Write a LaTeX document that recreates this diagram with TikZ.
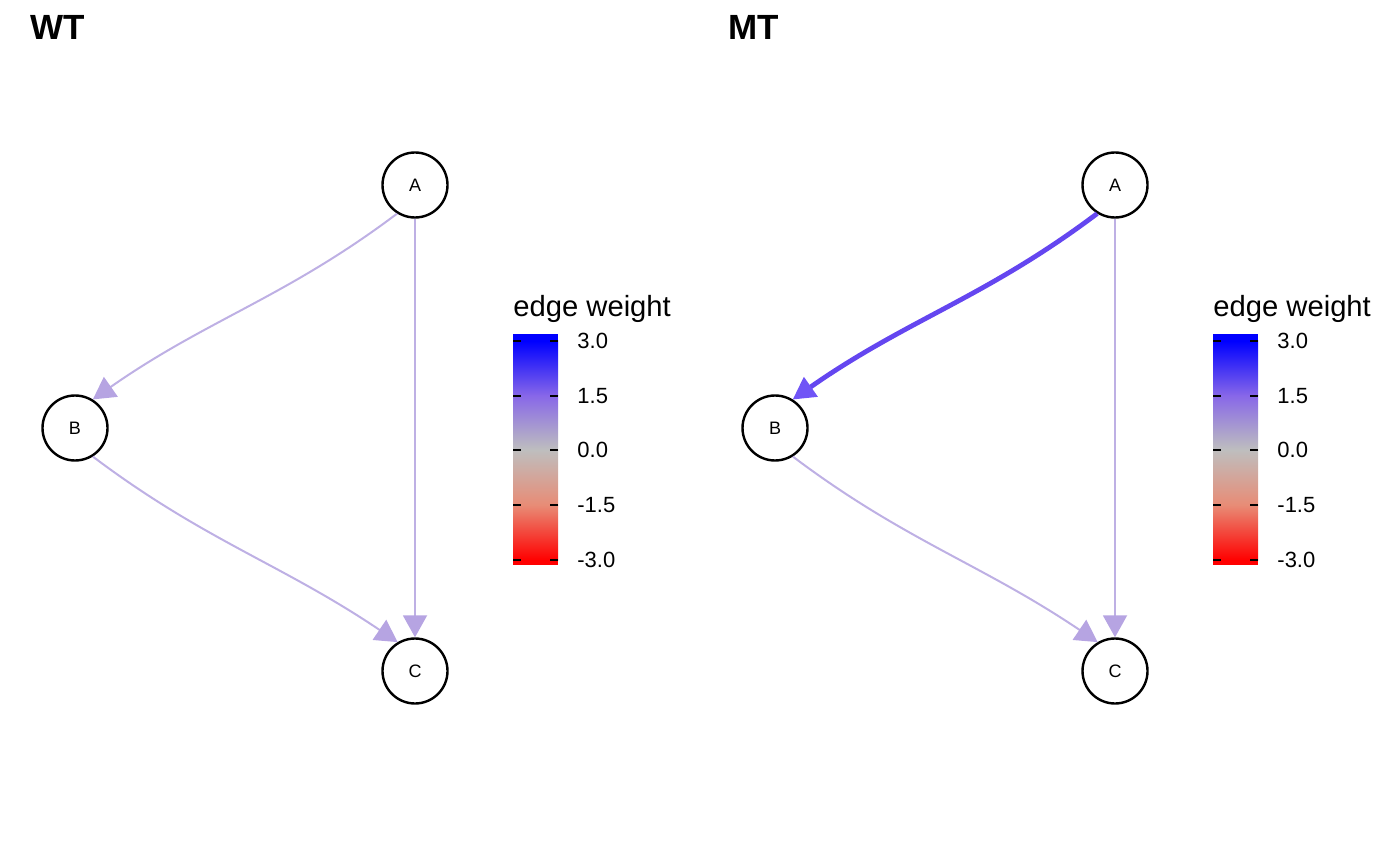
\documentclass[tikz,border=0pt]{standalone}
\usepackage{fontspec}
\setmainfont{Liberation Sans}
\usepackage{xcolor}
\usetikzlibrary{arrows.meta,positioning}
\definecolor{edgelight}{RGB}{190,176,228}
\definecolor{tiplight}{RGB}{182,164,226}
\definecolor{edgestrong}{RGB}{100,70,240}
\definecolor{tipstrong}{RGB}{112,84,246}
\definecolor{keyblue}{RGB}{0,0,255}
\definecolor{keypurple}{RGB}{136,104,232}
\definecolor{keygrey}{RGB}{190,190,190}
\definecolor{keysalmon}{RGB}{232,140,118}
\definecolor{keyred}{RGB}{255,0,0}
\tikzset{
  vertex/.style={circle, draw, line width=1.2pt, minimum size=32.5pt, inner sep=0pt,
    font=\fontsize{9}{10}\selectfont},
  weak/.style={edgelight, line width=1pt,
    -{Triangle[length=11pt, width=12pt, fill=tiplight, color=tiplight]}},
  strong/.style={edgestrong, line width=2.4pt,
    -{Triangle[length=11pt, width=12pt, fill=tipstrong, color=tipstrong, line width=1pt]}},
  paneltitle/.style={anchor=base west, inner sep=0pt, font=\fontsize{17.5}{20}\selectfont\bfseries},
  keytitle/.style={anchor=base west, inner sep=0pt, font=\fontsize{14.6}{17}\selectfont},
  keylabel/.style={anchor=west, inner sep=0pt, font=\fontsize{11}{13}\selectfont},
  keytick/.style={line width=0.9pt}
}
\begin{document}
\begin{tikzpicture}[x=0.5pt, y=-0.5pt]
  \useasboundingbox (0,0) rectangle (1400,865);

  % WT panel
  \node[paneltitle] (WTtitle) at (30,40) {WT};
  \node[vertex] (WTA) at (415,185) {A};
  \node[vertex] (WTB) at (75,428) {B};
  \node[vertex] (WTC) at (415,671) {C};
  \draw[weak] (WTA.238) to[out=217, in=35] (WTB.58);
  \draw[weak] (WTA) -- (WTC);
  \draw[weak] (WTB.302) to[out=-37, in=146] (WTC.121);

  % WT colour key
  \fill[keyblue] (513,334) rectangle (558,341);
  \shade[top color=keyblue, bottom color=keypurple] (513,341) rectangle (558,396);
  \shade[top color=keypurple, bottom color=keygrey] (513,396) rectangle (558,450);
  \shade[top color=keygrey, bottom color=keysalmon] (513,450) rectangle (558,505);
  \shade[top color=keysalmon, bottom color=keyred] (513,505) rectangle (558,560);
  \fill[keyred] (513,560) rectangle (558,565);
  \foreach \y in {341,396,450,505,560} {
    \draw[keytick] (513,\y) -- (521,\y);
    \draw[keytick] (550,\y) -- (558,\y);
  }
  \node[keytitle] (WTkey) at (513,317) {edge weight};
  \node[keylabel] (WTk1) at (577,341) {3.0};
  \node[keylabel] (WTk2) at (577,396) {1.5};
  \node[keylabel] (WTk3) at (577,450) {0.0};
  \node[keylabel] (WTk4) at (577,505) {-1.5};
  \node[keylabel] (WTk5) at (577,560) {-3.0};

  % MT panel
  \node[paneltitle] (MTtitle) at (728,40) {MT};
  \node[vertex] (MTA) at (1115,185) {A};
  \node[vertex] (MTB) at (775,428) {B};
  \node[vertex] (MTC) at (1115,671) {C};
  \draw[strong] (MTA.238) to[out=217, in=35] (MTB.58);
  \draw[weak] (MTA) -- (MTC);
  \draw[weak] (MTB.302) to[out=-37, in=146] (MTC.121);

  % MT colour key
  \fill[keyblue] (1213,334) rectangle (1258,341);
  \shade[top color=keyblue, bottom color=keypurple] (1213,341) rectangle (1258,396);
  \shade[top color=keypurple, bottom color=keygrey] (1213,396) rectangle (1258,450);
  \shade[top color=keygrey, bottom color=keysalmon] (1213,450) rectangle (1258,505);
  \shade[top color=keysalmon, bottom color=keyred] (1213,505) rectangle (1258,560);
  \fill[keyred] (1213,560) rectangle (1258,565);
  \foreach \y in {341,396,450,505,560} {
    \draw[keytick] (1213,\y) -- (1221,\y);
    \draw[keytick] (1250,\y) -- (1258,\y);
  }
  \node[keytitle] (MTkey) at (1213,317) {edge weight};
  \node[keylabel] (MTk1) at (1277,341) {3.0};
  \node[keylabel] (MTk2) at (1277,396) {1.5};
  \node[keylabel] (MTk3) at (1277,450) {0.0};
  \node[keylabel] (MTk4) at (1277,505) {-1.5};
  \node[keylabel] (MTk5) at (1277,560) {-3.0};
\end{tikzpicture}
\end{document}
